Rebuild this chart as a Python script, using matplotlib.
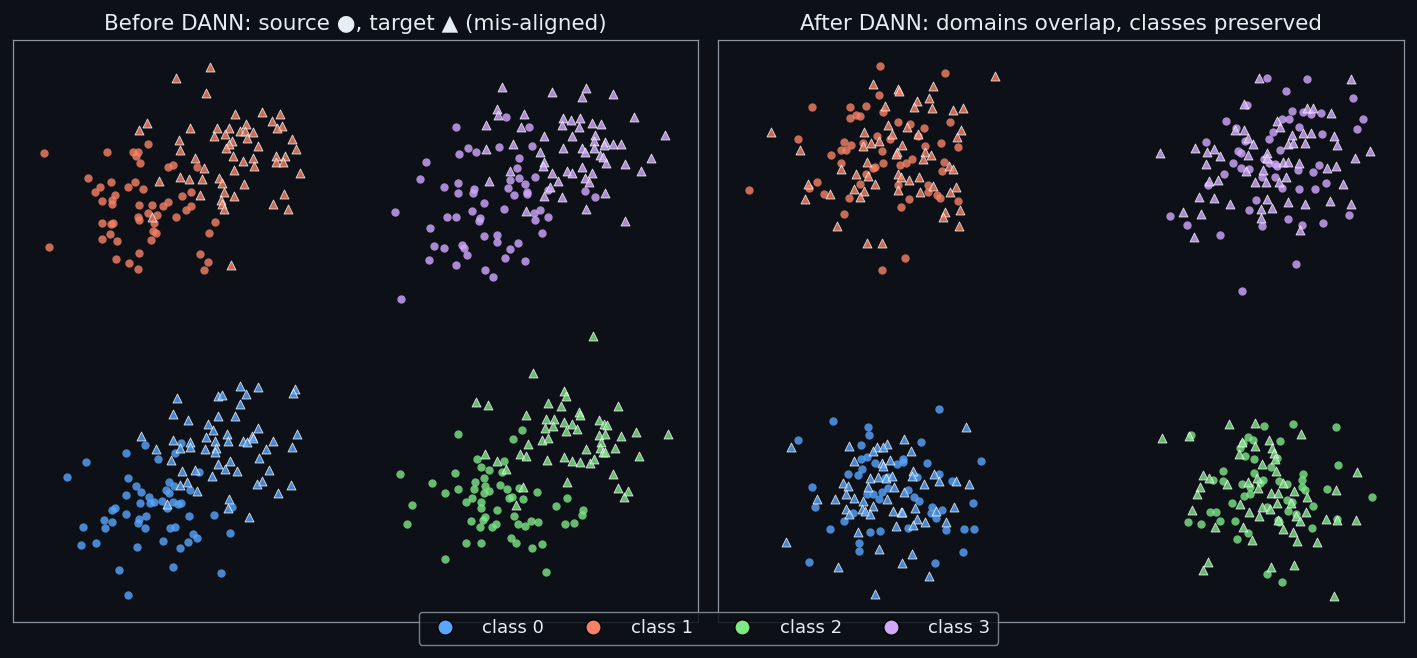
import matplotlib
matplotlib.use("Agg")
import matplotlib.pyplot as plt
from matplotlib.lines import Line2D

# Embedding coordinates (pixel-like units, y grows downwards)
class_names = ["class 0", "class 1", "class 2", "class 3"]
class_colors = ["#58a6ff", "#f78166", "#7ee787", "#d2a8ff"]
titles = ["Before DANN: source \u25cf, target \u25b2 (mis-aligned)",
          "After DANN: domains overlap, classes preserved"]

# ---- before DANN ----
before_src_0 = [(145,445),(126,453),(175,453),(181,443),(158,459),(86,462),(67,477),(128,478),(199,472),
    (136,486),(141,492),(169,482),(166,490),(169,493),(174,486),(190,490),(126,495),(149,497),(140,503),
    (150,503),(154,502),(162,501),(167,508),(173,502),(178,504),(181,503),(115,508),(112,510),(126,514),
    (146,516),(139,519),(138,523),(145,528),(104,520),(112,522),(105,528),(83,527),(170,528),(175,527),
    (189,516),(214,515),(232,507),(230,533),(193,534),(197,538),(188,542),(163,541),(180,548),(137,547),
    (96,543),(81,545),(119,570),(173,567),(221,573),(128,595)]
before_tgt_0 = [(240,386),(258,387),(295,389),(293,393),(218,396),(222,395),(246,394),(177,398),(240,404),
    (173,414),(188,420),(218,416),(235,416),(208,424),(213,430),(258,428),(206,437),(227,434),(228,441),
    (215,441),(243,441),(247,442),(252,436),(253,438),(273,441),(297,434),(141,436),(173,440),(190,442),
    (190,447),(180,448),(156,449),(216,448),(215,452),(205,449),(266,449),(292,447),(171,460),(259,458),
    (230,461),(218,464),(225,469),(237,471),(182,471),(195,470),(212,476),(269,470),(187,482),(180,485),
    (197,491),(262,481),(257,484),(291,485),(278,493),(229,499),(228,508),(167,504),(249,517)]
before_src_1 = [(44,153),(107,152),(133,152),(138,152),(136,156),(140,163),(148,144),(88,178),(111,182),
    (100,187),(95,192),(102,201),(112,200),(115,195),(112,204),(128,187),(135,182),(143,189),(139,205),
    (152,205),(148,213),(138,217),(139,220),(157,215),(154,223),(153,231),(156,233),(151,240),(163,206),
    (168,202),(168,167),(173,165),(182,196),(191,192),(191,206),(186,210),(176,217),(197,167),(215,222),
    (209,233),(200,254),(208,262),(204,270),(102,223),(111,224),(113,223),(110,234),(102,239),(117,241),
    (116,259),(129,263),(138,269),(139,253),(49,247)]
before_tgt_1 = [(210,67),(176,78),(206,93),(147,123),(139,130),(190,128),(235,114),(262,112),(280,114),
    (272,121),(282,126),(277,128),(217,128),(229,128),(246,124),(240,131),(245,131),(253,132),(225,134),
    (214,136),(247,138),(232,141),(229,144),(226,148),(179,140),(180,150),(258,146),(292,139),(296,149),
    (233,156),(243,161),(253,158),(254,166),(276,156),(285,156),(276,162),(283,162),(195,158),(204,168),
    (234,170),(300,173),(159,181),(180,177),(189,179),(202,179),(219,178),(222,183),(244,184),(224,192),
    (234,196),(221,200),(222,204),(224,209),(200,195),(284,194),(273,204),(288,209),(152,217),(231,265)]
before_src_2 = [(458,434),(522,430),(513,439),(400,474),(455,473),(432,483),(445,493),(458,489),(477,459),
    (481,467),(489,470),(504,461),(502,472),(484,478),(475,482),(474,489),(485,486),(484,493),(489,491),
    (500,485),(507,489),(519,488),(537,492),(472,498),(466,502),(481,502),(481,508),(497,510),(509,498),
    (512,497),(523,499),(412,505),(407,524),(471,521),(480,527),(483,520),(485,517),(492,527),(496,524),
    (514,516),(518,524),(525,526),(531,521),(538,522),(556,506),(567,498),(583,510),(582,515),(574,523),
    (565,524),(466,543),(481,543),(511,538),(516,543),(532,548),(542,544),(445,559),(546,572)]
before_tgt_2 = [(593,336),(533,373),(564,391),(566,396),(476,402),(488,405),(548,403),(561,406),(579,412),
    (580,415),(618,406),(526,415),(546,419),(554,419),(545,428),(553,426),(564,422),(572,424),(577,429),
    (566,431),(599,420),(604,424),(607,425),(599,435),(605,434),(601,442),(621,436),(636,432),(668,434),
    (542,440),(548,438),(528,444),(600,448),(603,452),(605,452),(615,448),(586,449),(485,454),(520,454),
    (526,456),(547,460),(564,457),(572,461),(580,462),(590,463),(594,459),(639,456),(497,461),(506,469),
    (613,474),(567,482),(523,487),(618,488),(628,491),(624,497),(516,505)]
before_src_3 = [(506,117),(456,127),(529,127),(468,148),(476,152),(459,154),(499,147),(532,146),(519,158),
    (426,162),(420,179),(517,168),(519,178),(510,180),(535,177),(525,184),(444,187),(458,183),(458,193),
    (474,189),(473,193),(508,188),(514,195),(527,192),(527,194),(548,190),(585,191),(595,197),(484,203),
    (395,212),(472,211),(447,217),(456,217),(480,218),(479,221),(504,209),(540,210),(534,213),(535,220),
    (548,217),(430,228),(542,233),(484,236),(497,235),(497,242),(518,243),(434,246),(444,248),(462,245),
    (464,248),(467,255),(510,249),(429,260),(456,265),(505,258),(525,261),(485,270),(493,277),(401,299)]
before_tgt_3 = [(502,87),(552,92),(586,88),(582,97),(613,94),(497,109),(498,115),(524,114),(486,125),
    (521,127),(563,118),(571,120),(580,118),(562,125),(579,127),(592,123),(601,124),(634,117),(544,136),
    (572,136),(595,135),(594,141),(605,142),(613,144),(621,144),(665,135),(513,144),(486,149),(540,152),
    (563,148),(582,148),(585,152),(594,148),(604,145),(600,155),(603,157),(606,163),(625,164),(651,158),
    (544,162),(543,166),(510,171),(552,173),(567,171),(572,173),(582,167),(592,173),(641,171),(489,181),
    (558,181),(585,178),(589,182),(550,187),(544,196),(562,197),(605,193),(526,211),(586,209),(625,221)]

# ---- after DANN ----
after_src_0 = [(939,409),(833,421),(868,427),(869,435),(798,440),(861,445),(921,442),(981,461),(927,463),
    (903,459),(903,462),(897,464),(861,459),(867,457),(875,463),(862,469),(848,474),(858,475),(885,478),
    (888,477),(917,477),(939,474),(952,481),(812,487),(867,494),(873,494),(879,499),(882,492),(888,488),
    (908,490),(914,497),(919,501),(932,507),(942,510),(931,513),(936,518),(815,507),(853,513),(844,521),
    (830,529),(870,532),(880,531),(908,528),(946,530),(964,529),(974,529),(973,503),(859,543),(859,551),
    (963,552),(809,562),(935,563)]
after_tgt_0 = [(966,427),(791,447),(849,446),(877,447),(887,444),(904,439),(873,451),(883,447),(911,451),
    (854,461),(882,463),(883,466),(890,460),(913,471),(912,476),(934,474),(939,481),(956,481),(969,484),
    (924,484),(870,478),(878,477),(886,478),(892,476),(894,487),(843,483),(848,486),(868,487),(846,494),
    (854,498),(817,499),(835,499),(863,501),(887,499),(904,492),(846,509),(849,514),(862,509),(873,506),
    (865,511),(870,514),(893,511),(901,512),(902,512),(915,508),(917,519),(925,522),(936,511),(954,507),
    (946,522),(896,526),(913,525),(858,532),(879,549),(912,554),(902,563),(838,567),(929,576),(786,542),
    (875,594)]
after_src_1 = [(880,66),(945,73),(812,107),(850,107),(866,106),(879,95),(883,112),(856,115),(860,116),
    (850,118),(898,122),(910,124),(924,128),(950,122),(798,139),(844,142),(851,145),(841,150),(846,150),
    (831,155),(841,163),(863,143),(877,136),(882,151),(883,163),(873,168),(875,167),(890,139),(918,136),
    (925,146),(941,143),(958,147),(900,165),(906,163),(912,159),(944,162),(942,171),(866,174),(860,184),
    (817,182),(809,188),(824,194),(849,198),(898,185),(909,199),(901,207),(928,185),(928,192),(937,195),
    (940,198),(958,201),(844,214),(749,190),(905,258),(882,270)]
after_tgt_1 = [(995,76),(873,84),(898,89),(899,91),(933,86),(929,98),(917,101),(914,107),(932,108),
    (953,110),(963,108),(885,106),(771,132),(888,125),(907,127),(864,132),(892,134),(918,134),(961,130),
    (957,137),(800,150),(863,146),(871,143),(879,141),(902,145),(897,152),(896,154),(925,152),(931,155),
    (923,159),(867,162),(841,169),(949,166),(953,169),(856,174),(868,176),(898,174),(901,177),(919,177),
    (909,180),(875,184),(933,186),(956,187),(808,184),(830,194),(854,189),(864,191),(860,197),(898,190),
    (920,192),(950,192),(805,199),(945,212),(943,217),(960,210),(959,226),(837,226),(867,243),(882,243)]
after_src_2 = [(1191,435),(1264,426),(1293,424),(1336,427),(1248,437),(1253,440),(1243,443),(1280,441),
    (1240,448),(1245,456),(1254,459),(1277,458),(1271,467),(1338,465),(1223,471),(1213,480),(1223,481),
    (1242,484),(1254,473),(1263,480),(1260,483),(1250,487),(1244,496),(1250,494),(1279,481),(1287,484),
    (1303,474),(1302,480),(1305,490),(1302,487),(1327,489),(1287,500),(1292,502),(1313,506),(1288,511),
    (1296,514),(1232,503),(1267,507),(1210,512),(1216,512),(1220,521),(1188,522),(1201,524),(1235,521),
    (1278,520),(1279,522),(1312,528),(1337,519),(1372,497),(1248,533),(1237,539),(1267,574),(1282,582)]
after_tgt_2 = [(1162,438),(1189,436),(1229,424),(1255,423),(1301,434),(1269,440),(1242,442),(1255,446),
    (1272,448),(1274,453),(1239,454),(1275,459),(1262,464),(1276,471),(1357,472),(1203,475),(1209,478),
    (1227,484),(1200,487),(1197,494),(1248,482),(1257,478),(1258,488),(1283,483),(1294,491),(1307,497),
    (1271,493),(1278,493),(1336,490),(1240,504),(1277,503),(1291,503),(1192,510),(1249,512),(1262,507),
    (1270,509),(1259,516),(1296,516),(1300,521),(1306,512),(1278,520),(1326,519),(1337,520),(1356,520),
    (1215,527),(1243,527),(1283,529),(1293,532),(1297,541),(1317,542),(1252,540),(1208,562),(1203,570),
    (1271,567),(1294,565),(1334,596)]
after_src_3 = [(1267,78),(1307,79),(1286,91),(1353,98),(1247,105),(1292,111),(1303,112),(1311,114),
    (1321,113),(1363,119),(1357,129),(1226,121),(1236,128),(1282,119),(1289,119),(1299,127),(1273,132),
    (1269,139),(1245,141),(1206,142),(1322,134),(1280,150),(1238,151),(1241,153),(1233,163),(1241,168),
    (1249,169),(1264,159),(1269,163),(1275,164),(1277,166),(1262,177),(1275,177),(1224,174),(1208,185),
    (1298,170),(1313,172),(1319,165),(1326,183),(1282,188),(1299,189),(1315,189),(1256,200),(1249,210),
    (1262,226),(1288,219),(1302,225),(1323,223),(1349,215),(1170,216),(1187,225),(1220,235),(1296,264),
    (1242,291)]
after_tgt_3 = [(1259,78),(1351,79),(1244,104),(1307,108),(1313,108),(1331,113),(1277,121),(1280,127),
    (1235,130),(1244,130),(1248,138),(1253,144),(1292,135),(1303,133),(1311,133),(1334,136),(1337,145),
    (1288,144),(1293,143),(1305,143),(1195,148),(1214,149),(1207,152),(1220,156),(1248,155),(1160,153),
    (1370,151),(1355,158),(1267,153),(1267,158),(1283,162),(1288,162),(1299,163),(1327,168),(1336,166),
    (1206,164),(1246,171),(1263,170),(1286,177),(1255,182),(1266,182),(1279,182),(1209,181),(1218,180),
    (1343,184),(1199,197),(1214,198),(1230,204),(1267,199),(1261,209),(1272,208),(1288,202),(1305,204),
    (1330,201),(1351,204),(1183,212),(1201,214),(1261,218),(1300,230),(1194,237)]

panels = [
    ([before_src_0, before_src_1, before_src_2, before_src_3],
     [before_tgt_0, before_tgt_1, before_tgt_2, before_tgt_3]),
    ([after_src_0, after_src_1, after_src_2, after_src_3],
     [after_tgt_0, after_tgt_1, after_tgt_2, after_tgt_3]),
]
xlims = [(13, 698), (718, 1404)]

bg = "#0d1117"
fg = "#e6edf3"
edge = "#8b949e"

fig = plt.figure(figsize=(14.17, 6.58), dpi=100, facecolor=bg)
axes = [fig.add_axes([13/1417, 36/658, 685/1417, 582/658]),
        fig.add_axes([718/1417, 36/658, 686/1417, 582/658])]

for ax, (src, tgt), title, xl in zip(axes, panels, titles, xlims):
    ax.set_facecolor(bg)
    for pts, col in zip(src, class_colors):
        xs, ys = zip(*pts)
        ax.scatter(xs, ys, s=36, marker="o", color=col, alpha=0.8, linewidths=0, zorder=2)
    for pts, col in zip(tgt, class_colors):
        xs, ys = zip(*pts)
        ax.scatter(xs, ys, s=42, marker="^", color=col, alpha=0.8,
                   edgecolors=(1, 1, 1, 0.75), linewidths=0.6, zorder=3)
    ax.set_xlim(*xl)
    ax.set_ylim(622, 40)
    ax.set_xticks([]), ax.set_yticks([])
    for sp in ax.spines.values():
        sp.set_color(edge)
        sp.set_linewidth(0.9)
    ax.set_title(title, color=fg, fontsize=15.5, pad=7)

handles = [Line2D([], [], marker="o", linestyle="none", markersize=11,
                  markerfacecolor=c, markeredgecolor="black", markeredgewidth=1)
           for c in class_colors]
leg = fig.legend(handles, class_names, loc="lower center", bbox_to_anchor=(0.5, 0.006),
                 ncol=4, fontsize=13, frameon=True, facecolor=bg, edgecolor=edge,
                 framealpha=0.85, labelcolor=fg, columnspacing=1.7, handletextpad=1.1,
                 borderpad=0.42)
leg.get_frame().set_linewidth(1.0)

plt.savefig("out.png", dpi=100, facecolor=bg)
